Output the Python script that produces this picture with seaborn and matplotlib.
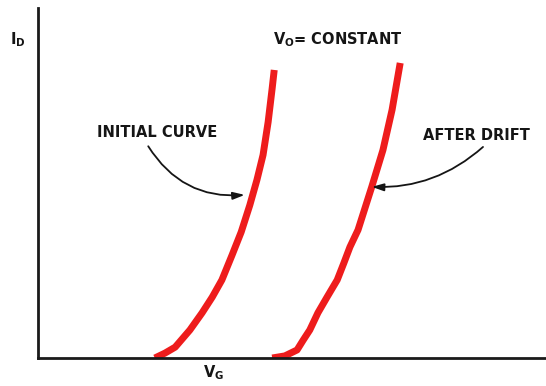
import matplotlib
matplotlib.use("Agg")
import matplotlib.pyplot as plt
import seaborn as sns
import pandas as pd

# Gate voltage / drain current readings for the two transfer curves
vg_initial = [2.30, 2.50, 2.70, 2.99, 3.23, 3.43, 3.62, 3.82, 4.00, 4.17, 4.31, 4.43, 4.53, 4.61, 4.65]
id_initial = [0.00, 0.14, 0.31, 0.80, 1.29, 1.74, 2.23, 2.94, 3.60, 4.37, 5.09, 5.80, 6.74, 7.71, 8.23]

vg_drift = [4.61, 4.86, 5.10, 5.22, 5.35, 5.51, 5.69, 5.89, 6.02, 6.14, 6.30, 6.57, 6.79, 6.97, 7.13]
id_drift = [0.00, 0.06, 0.23, 0.51, 0.80, 1.29, 1.74, 2.23, 2.71, 3.17, 3.66, 4.89, 5.94, 7.09, 8.43]

curve_labels = ["INITIAL CURVE", "AFTER DRIFT"]
title_text = r"$\mathbf{V_O}$" + "= CONSTANT"

df = pd.concat([
    pd.DataFrame({"vg": vg_initial, "id": id_initial, "curve": curve_labels[0]}),
    pd.DataFrame({"vg": vg_drift, "id": id_drift, "curve": curve_labels[1]}),
])

sns.set_style("white")
plt.rcParams["font.family"] = ["DejaVu Sans"]
plt.rcParams["mathtext.fontset"] = "dejavusans"

fig = plt.figure(figsize=(5.46, 3.86), dpi=100)
ax = fig.add_axes([38 / 546, 28 / 386, 508 / 546, 350 / 386])

red = "#ee1c1c"
sns.lineplot(data=df, x="vg", y="id", hue="curve", palette=[red, red],
             sort=False, estimator=None, legend=False, lw=5.0, ax=ax,
             solid_capstyle="butt", solid_joinstyle="round")

ax.set_xlim(0, 10)
ax.set_ylim(0, 10)
ax.set_xticks([])
ax.set_yticks([])
ax.set_xlabel("")
ax.set_ylabel("")
for side in ("top", "right"):
    ax.spines[side].set_visible(False)
for side in ("left", "bottom"):
    ax.spines[side].set_color("#1a1a1a")
    ax.spines[side].set_linewidth(2.0)

txt = dict(fontsize=10.5, fontweight="bold", color="#151515")
ax.text(-0.56, 9.1, r"$\mathbf{I_D}$", ha="left", va="center", clip_on=False, **txt)
ax.text(3.25, -0.42, r"$\mathbf{V_G}$", ha="left", va="center", clip_on=False, **txt)
ax.text(4.62, 9.1, title_text, ha="left", va="center", **txt)

ax.text(1.16, 6.43, curve_labels[0], ha="left", va="center", **txt)
ax.text(7.58, 6.37, curve_labels[1], ha="left", va="center", **txt)

arrow = dict(arrowstyle="-|>,head_length=0.7,head_width=0.22", color="#151515",
             lw=1.3, shrinkA=0, shrinkB=0)
ax.annotate("", xy=(4.07, 4.66), xytext=(2.17, 6.05),
            arrowprops=dict(**arrow, connectionstyle="arc3,rad=0.3"))
ax.annotate("", xy=(6.57, 4.89), xytext=(8.76, 6.03),
            arrowprops=dict(**arrow, connectionstyle="arc3,rad=-0.2"))

fig.savefig("out.png", dpi=100)
